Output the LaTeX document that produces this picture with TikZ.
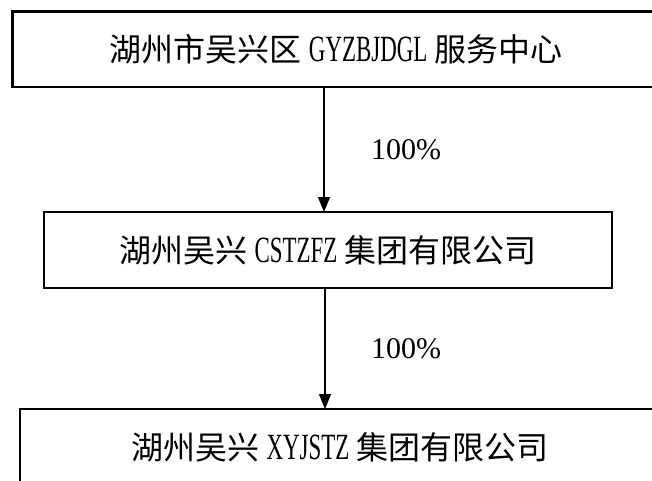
\documentclass[tikz,border=0pt]{standalone}
\usepackage{fontspec}
\setmainfont{Liberation Serif}
\newfontfamily\cjk{Noto Sans CJK SC}
\newfontfamily\latn[FakeStretch=0.62]{Liberation Serif}
\newcommand{\lt}[1]{\hspace{7pt}{\latn\fontsize{37}{37}\selectfont #1}\hspace{7pt}}
\usetikzlibrary{arrows.meta}
\tikzset{
  box/.style={draw, line width=2.7pt, inner sep=0pt, outer sep=0pt, font=\fontsize{32}{32}\selectfont\cjk},
  arr/.style={line width=1.5pt, -{Triangle[width=12pt,length=15pt]}},
  pct/.style={font=\fontsize{30}{30}\selectfont}
}
\begin{document}
\begin{tikzpicture}[x=1pt,y=-1pt]
\useasboundingbox (0,0) rectangle (652,480);
\clip (0,0) rectangle (652,480);
\node[box, minimum width=647.5pt, minimum height=75.5pt] (top) at (336.25,49.25)
  {湖州市吴兴区\lt{GYZBJDGL}服务中心};
\node[box, minimum width=568pt, minimum height=76pt] (mid) at (328,250)
  {湖州吴兴\lt{CSTZFZ}集团有限公司};
\node[box, minimum width=640pt, minimum height=76pt] (bot) at (340,447)
  {湖州吴兴\lt{XYJSTZ}集团有限公司};
\coordinate (a1) at (324,0);
\coordinate (a2) at (325,0);
\draw[arr] (top.south -| a1) -- (mid.north -| a1);
\draw[arr] (mid.south -| a2) -- (bot.north -| a2);
\node[pct] (p1) at (406,150) {100\%};
\node[pct] (p2) at (406,349) {100\%};
\end{tikzpicture}
\end{document}
